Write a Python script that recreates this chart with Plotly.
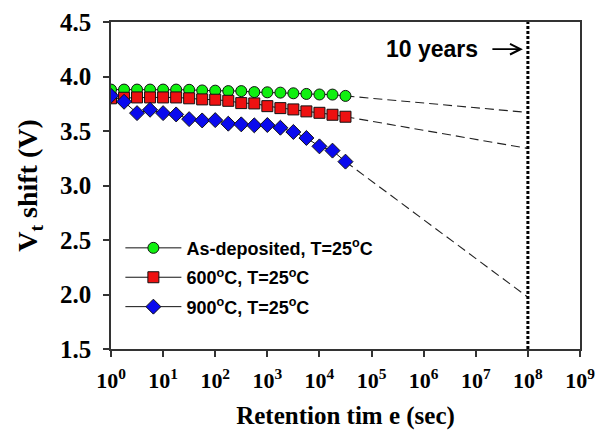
import plotly.graph_objects as go

# ---- data ----
time_s = [1, 1.78, 3.16, 5.62, 10, 17.8, 31.6, 56.2, 100, 178, 316, 562,
          1000, 1780, 3160, 5620, 10000, 17800, 31600]
as_dep = [3.88, 3.88, 3.88, 3.88, 3.88, 3.88, 3.878, 3.872, 3.87, 3.866, 3.866,
          3.857, 3.855, 3.852, 3.846, 3.84, 3.835, 3.834, 3.822]
t600 = [3.80, 3.805, 3.808, 3.808, 3.808, 3.808, 3.80, 3.79, 3.787, 3.777, 3.756,
        3.753, 3.728, 3.71, 3.698, 3.68, 3.667, 3.649, 3.631]
t900 = [3.823, 3.768, 3.664, 3.695, 3.664, 3.652, 3.609, 3.597, 3.600, 3.567,
        3.561, 3.552, 3.555, 3.530, 3.491, 3.436, 3.359, 3.320, 3.219]

extrap_t = [31600, 1e8]
extrap_asdep = [3.822, 3.67]
extrap_600 = [3.631, 3.34]
extrap_900 = [3.219, 1.975]

ten_years = 1e8

names = ["As-deposited, T=25<sup>o</sup>C", "600<sup>o</sup>C, T=25<sup>o</sup>C",
         "900<sup>o</sup>C, T=25<sup>o</sup>C"]
colors = ["#10F010", "#EE1111", "#0A0AEE"]
symbols = ["circle", "square", "diamond"]
sizes = [11, 11, 11.5]

x_tickvals = [10 ** i for i in range(10)]
x_ticktext = ["10<sup>%d</sup>" % i for i in range(10)]
y_tickvals = [1.5, 2.0, 2.5, 3.0, 3.5, 4.0, 4.5]
y_ticktext = ["1.5", "2.0", "2.5", "3.0", "3.5", "4.0", "4.5"]

fig = go.Figure()

for ys in (extrap_asdep, extrap_600, extrap_900):
    fig.add_trace(go.Scatter(x=extrap_t, y=ys, mode="lines", showlegend=False,
                             line=dict(color="#222", width=1.1, dash="9px,5px"),
                             hoverinfo="skip"))

for i, (ys, nm, c, s, sz) in enumerate(zip((as_dep, t600, t900), names, colors,
                                            symbols, sizes)):
    fig.add_trace(go.Scatter(
        x=time_s, y=ys, mode="lines+markers", name=nm, legendgroup="g%d" % i,
        line=dict(color="#111", width=1),
        marker=dict(color=c, symbol=s, size=sz, line=dict(color="#111", width=1))))

fig.add_shape(type="line", xref="x", yref="paper", x0=ten_years, x1=ten_years,
              y0=0, y1=1, line=dict(color="black", width=3, dash="3px,2px"))

fig.add_annotation(xref="x", yref="paper", x=8, y=0.917, text="",
                   showarrow=True, ax=-37, ay=0, standoff=5, arrowhead=5,
                   arrowsize=1.3, arrowwidth=1.6, arrowcolor="black")
fig.add_annotation(xref="x", yref="paper", x=8, y=0.917, text="10 years",
                   showarrow=False, xanchor="right", yanchor="middle", xshift=-48,
                   font=dict(family="Liberation Sans, Arial", size=23, color="black",
                             weight="bold"))

axis_font = dict(family="Liberation Serif, Times New Roman", color="black", weight="bold")

fig.update_layout(
    width=606, height=434,
    margin=dict(l=111, r=26, t=22, b=85),
    paper_bgcolor="white", plot_bgcolor="white",
    xaxis=dict(type="log", range=[0, 9], tickvals=x_tickvals, ticktext=x_ticktext,
               ticks="outside", ticklen=6, tickwidth=1.5, tickcolor="#333",
               showline=True, linecolor="#333", linewidth=1.5, mirror=True,
               showgrid=False, zeroline=False, ticklabelstandoff=5, automargin=False,
               tickfont=dict(axis_font, size=22),
               title=dict(text="Retention tim e (sec)", font=dict(axis_font, size=25),
                          standoff=14)),
    yaxis=dict(range=[1.5, 4.5], tickvals=y_tickvals, ticktext=y_ticktext,
               ticks="outside", ticklen=6, tickwidth=1.5, tickcolor="#333",
               showline=True, linecolor="#333", linewidth=1.5, mirror=True,
               showgrid=False, zeroline=False, ticklabelstandoff=7, automargin=False,
               tickfont=dict(axis_font, size=25),
               title=dict(text="V<sub>t</sub> shift (V)", font=dict(axis_font, size=28),
                          standoff=14)),
    legend=dict(x=0.02, y=0.365, xanchor="left", yanchor="top",
                bgcolor="rgba(0,0,0,0)", itemwidth=56, tracegroupgap=3,
                font=dict(family="Liberation Sans, Arial", size=18, color="black",
                          weight="bold")),
)

fig.write_html("out.html")
